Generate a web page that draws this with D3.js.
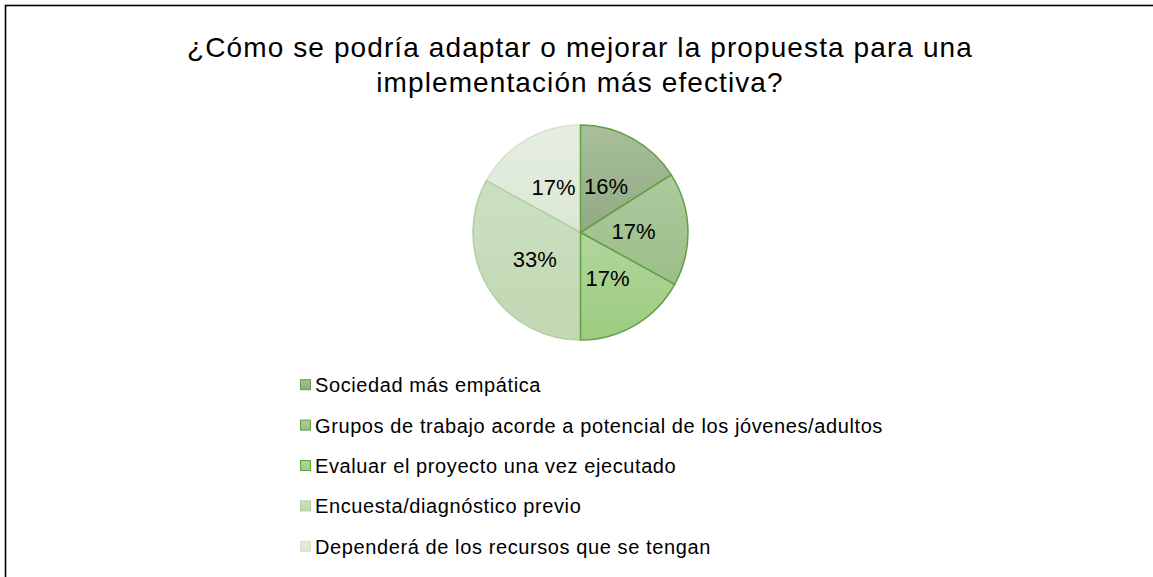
<!DOCTYPE html>
<html>
<head>
<meta charset="utf-8">
<script src="https://cdn.jsdelivr.net/npm/d3@7"></script>
<style>
  html, body { margin: 0; padding: 0; background: #fff; }
  svg { display: block; font-family: "Liberation Sans", Arial, sans-serif; }
</style>
</head>
<body>
<svg id="chart" width="1153" height="577"></svg>
<script>
// ---- data ----
const titleLines = ["¿Cómo se podría adaptar o mejorar la propuesta para una", "implementación más efectiva?"];
const categories = [
  "Sociedad más empática",
  "Grupos de trabajo acorde a potencial de los jóvenes/adultos",
  "Evaluar el proyecto una vez ejecutado",
  "Encuesta/diagnóstico previo",
  "Dependerá de los recursos que se tengan"
];
const values = [16, 17, 17, 33, 17];
const colorsTop = ["#a9bf9d", "#adca9e", "#b2d59f", "#cbe0c0", "#e5eee1"];
const colorsBottom = ["#91aa82", "#9bbe88", "#9ccc7e", "#c1d8b3", "#dbe7d3"];
const strokeColors = ["#62a043", "#62a043", "#62a043", "#b1cfa2", "#d3e3ca"];

const svg = d3.select("#chart");

// border (frame extends past right/bottom of the view)
svg.append("rect")
  .attr("x", 5.5).attr("y", 5.5)
  .attr("width", 1200).attr("height", 600)
  .attr("fill", "none").attr("stroke", "#000").attr("stroke-width", 1.6);

// title
const title = svg.append("text")
  .attr("text-anchor", "middle")
  .attr("font-size", 28)
  .attr("letter-spacing", 1.1)
  .attr("fill", "#000");
titleLines.forEach((t, i) => {
  title.append("tspan").attr("x", 580).attr("y", 57 + i * 35).text(t);
});

// gradients
const defs = svg.append("defs");
categories.forEach((c, i) => {
  const g = defs.append("linearGradient").attr("id", "g" + i)
    .attr("x1", 0).attr("y1", 0).attr("x2", 0).attr("y2", 1);
  g.append("stop").attr("offset", "0%").attr("stop-color", colorsTop[i]);
  g.append("stop").attr("offset", "100%").attr("stop-color", colorsBottom[i]);
});

// pie
const cx = 580.5, cy = 232.5, R = 107.5;
const pie = d3.pie().sort(null).value(d => d.v);
const data = pie(values.map((v, i) => ({ v, i })));
const arc = d3.arc().innerRadius(0).outerRadius(R);
const labelArc = d3.arc().innerRadius(53).outerRadius(53);
const total = d3.sum(values);

const gPie = svg.append("g").attr("transform", `translate(${cx},${cy})`);
// draw lighter-bordered slices first so darker borders stay on top
const order = [4, 3, 0, 1, 2];
gPie.selectAll("path")
  .data(order.map(k => data[k]))
  .join("path")
  .attr("d", arc)
  .attr("fill", d => `url(#g${d.data.i})`)
  .attr("stroke", d => strokeColors[d.data.i])
  .attr("stroke-width", 1.5)
  .attr("stroke-linejoin", "round");

gPie.selectAll("text.lbl")
  .data(data)
  .join("text")
  .attr("class", "lbl")
  .attr("transform", d => `translate(${labelArc.centroid(d)})`)
  .attr("text-anchor", "middle")
  .attr("dy", "0.35em")
  .attr("font-size", 22)
  .attr("fill", "#000")
  .text(d => Math.round(d.data.v / total * 100) + "%");

// legend
const ly = d3.scaleBand().domain(categories).range([365, 567]);
const leg = svg.append("g");
const items = leg.selectAll("g").data(categories).join("g")
  .attr("transform", d => `translate(300,${ly(d) + ly.bandwidth() / 2})`);
items.append("rect")
  .attr("x", 0.5).attr("y", -5.5)
  .attr("width", 10).attr("height", 10)
  .attr("fill", (d, i) => `url(#g${i})`)
  .attr("stroke", (d, i) => strokeColors[i])
  .attr("stroke-width", 1);
items.append("text")
  .attr("x", 15).attr("y", 0)
  .attr("dy", "0.35em")
  .attr("font-size", 20)
  .attr("letter-spacing", 0.6)
  .attr("fill", "#000")
  .text(d => d);
</script>
</body>
</html>
